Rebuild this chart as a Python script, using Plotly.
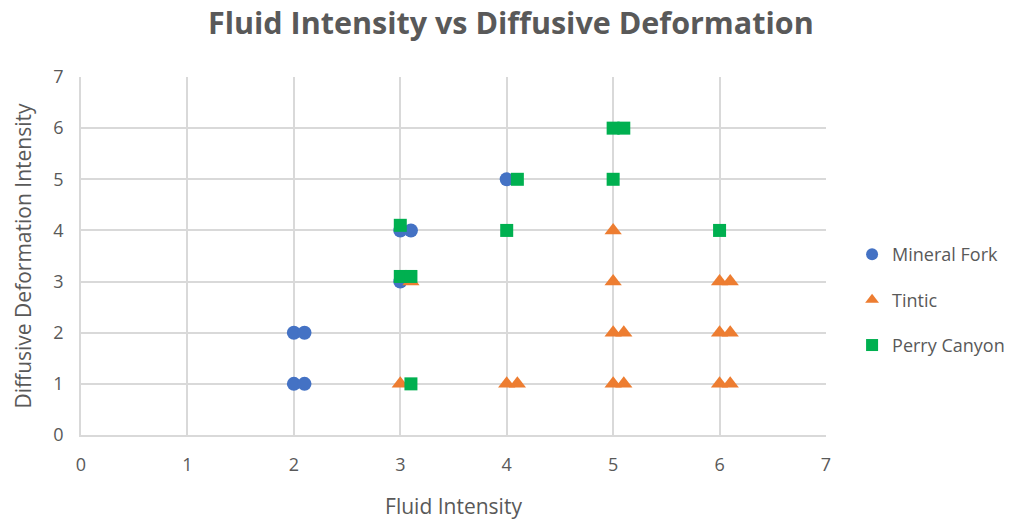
import plotly.graph_objects as go

mf_x = [2, 2.1, 2, 2.1, 3, 3, 3.1, 4]
mf_y = [1, 1, 2, 2, 3, 4, 4, 5]

ti_x = [3, 3.1, 4, 4.1, 5, 5.1, 6, 6.1, 5, 5.1, 6, 6.1, 5, 6, 6.1, 5]
ti_y = [1, 3, 1, 1, 1, 1, 1, 1, 2, 2, 2, 2, 3, 3, 3, 4]

pc_x = [3.1, 3, 3.1, 3, 4, 4.1, 5, 5, 5.1, 6]
pc_y = [1, 3.1, 3.1, 4.1, 4, 5, 5, 6, 6, 4]

font = "Open Sans"
gray = "#595959"

fig = go.Figure()
fig.add_trace(go.Scatter(x=mf_x, y=mf_y, mode="markers", name="Mineral Fork", legendgroup="a",
                         marker=dict(symbol="circle", size=14, color="#4472C4")))
fig.add_trace(go.Scatter(x=ti_x, y=ti_y, mode="markers", name="Tintic", legendgroup="b",
                         marker=dict(symbol="triangle-up", size=15, color="#ED7D31")))
fig.add_trace(go.Scatter(x=pc_x, y=pc_y, mode="markers", name="Perry Canyon", legendgroup="c",
                         marker=dict(symbol="square", size=13, color="#00B050")))

fig.update_layout(
    width=1032, height=523,
    margin=dict(l=81, r=206, t=77, b=88),
    paper_bgcolor="white", plot_bgcolor="white",
    title=dict(text="<b>Fluid Intensity vs Diffusive Deformation</b>",
               x=0.495, xanchor="center", y=0.955, yanchor="middle",
               font=dict(family=font, size=30.5, color=gray)),
    font=dict(family=font, color=gray),
    legend=dict(x=1.035, y=0.377, xanchor="left", yanchor="middle",
                font=dict(family=font, size=18, color=gray),
                tracegroupgap=19, itemsizing="constant"),
    xaxis=dict(range=[0, 7], dtick=1, showgrid=True, gridcolor="#d9d9d9", gridwidth=1.5,
               zeroline=False, showline=True, linecolor="#d9d9d9", linewidth=1.5, automargin=False,
               tickfont=dict(size=18, color=gray), ticks="outside", ticklen=13, tickcolor="rgba(0,0,0,0)",
               title=dict(text="Fluid Intensity", font=dict(size=21, color=gray), standoff=24)),
    yaxis=dict(range=[0, 7], dtick=1, showgrid=True, gridcolor="#d9d9d9", gridwidth=1.5,
               zeroline=False, showline=True, linecolor="#d9d9d9", linewidth=1.5, automargin=False,
               tickfont=dict(size=18, color=gray), ticks="outside", ticklen=12, tickcolor="rgba(0,0,0,0)",
               title=dict(text="Diffusive Deformation Intensity", font=dict(size=21, color=gray), standoff=16)),
)

fig.write_html("out.html")
